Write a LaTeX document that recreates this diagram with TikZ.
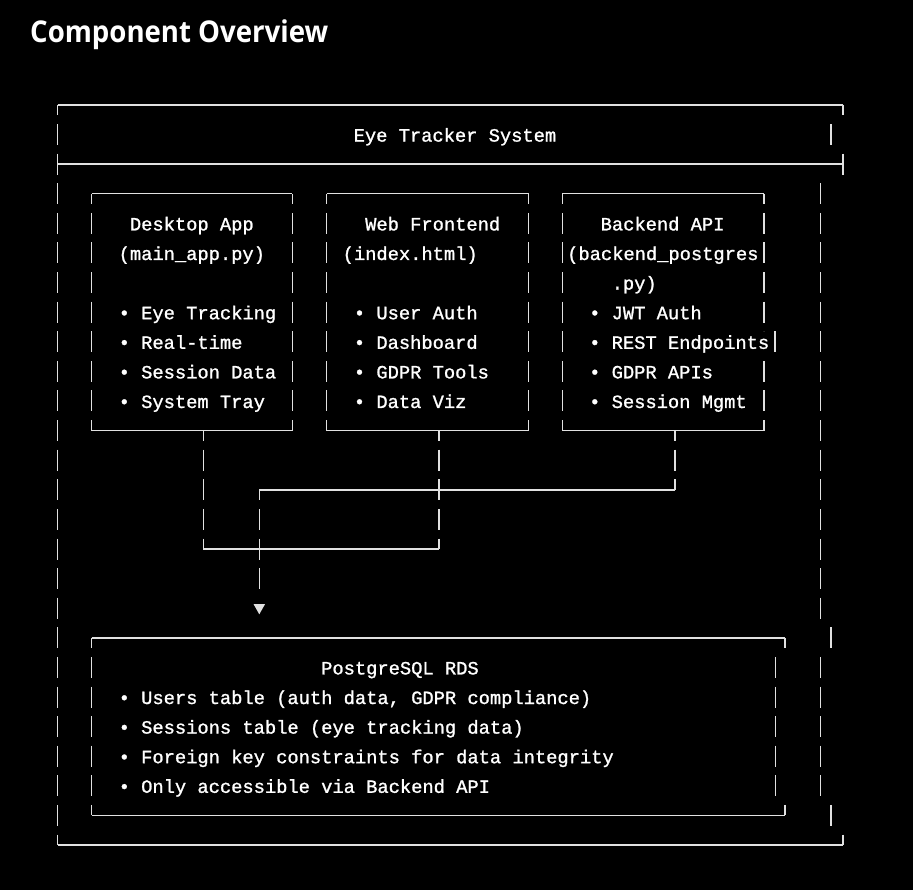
\documentclass[tikz,border=0pt]{standalone}
\usepackage{fontspec}
\setmonofont{Liberation Mono}[AutoFakeBold=1.2]
\newfontfamily\titlefont{Open Sans}
\definecolor{ln}{RGB}{225,225,225}
\begin{document}
\begin{tikzpicture}[x=1pt,y=-1pt,
 hl/.style={draw=ln, line width=1.4pt},
 vbar/.style={draw=ln, line width=1.4pt, dash pattern=on 21pt off 8.6pt, dash phase=10.5pt},
 vfull/.style={draw=ln, line width=1.4pt, dash pattern=on 21pt off 8.6pt, dash phase=0pt},
 txt/.style={text=white, font=\ttfamily\bfseries\fontsize{18.75}{20}\selectfont, anchor=base west, inner sep=0pt},
]
\path[fill=black, use as bounding box] (0,0) rectangle (913,890);

% title
\node[anchor=base west, inner sep=0pt, text=white, xscale=0.92,
  font=\titlefont\bfseries\fontsize{30}{36}\selectfont] (title) at (30,42.5) {Component Overview};

% outer frame
\draw[hl] (57.5,105) -- (843,105);
\draw[hl] (57.5,164.2) -- (843,164.2);
\draw[hl] (57.5,845) -- (843,845);
\draw[vbar] (57.5,105) -- (57.5,845);
\draw[hl] (843,105) -- (843,115.5);
\draw[hl] (831,124.1) -- (831,145.1);
\draw[hl] (843,153.7) -- (843,174.7);
\draw[vfull] (820.5,183.3) -- (820.5,618.7);
\draw[hl] (831,627.3) -- (831,648.3);
\draw[vfull] (820.5,656.9) -- (820.5,796.3);
\draw[hl] (831,804.9) -- (831,825.9);
\draw[hl] (843,834.5) -- (843,845);
\node[txt] (sys) at (353.5,141.6) {Eye Tracker System};

% desktop box
\draw[hl] (91.7,193.8) -- (292.3,193.8);
\draw[hl] (91.7,430.6) -- (292.3,430.6);
\draw[vbar] (91.7,193.8) -- (91.7,430.6);
\draw[vbar] (292.3,193.8) -- (292.3,430.6);
\node[txt] (d1) at (129.75,230.4) {Desktop App};
\node[txt] (d2) at (118.5,260) {(main\_app.py)};
\node[txt] (d3) at (118.5,319.2) {• Eye Tracking};
\node[txt] (d4) at (118.5,348.8) {• Real-time};
\node[txt] (d5) at (118.5,378.4) {• Session Data};
\node[txt] (d6) at (118.5,408) {• System Tray};

% web box
\draw[hl] (326.7,193.8) -- (528.7,193.8);
\draw[hl] (326.7,430.6) -- (528.7,430.6);
\draw[vbar] (326.7,193.8) -- (326.7,430.6);
\draw[vbar] (528.7,193.8) -- (528.7,430.6);
\node[txt] (w1) at (365,230.4) {Web Frontend};
\node[txt] (w2) at (342.5,260) {(index.html)};
\node[txt] (w3) at (353.7,319.2) {• User Auth};
\node[txt] (w4) at (353.7,348.8) {• Dashboard};
\node[txt] (w5) at (353.7,378.4) {• GDPR Tools};
\node[txt] (w6) at (353.7,408) {• Data Viz};

% backend box
\draw[hl] (562.3,193.8) -- (764,193.8);
\draw[hl] (562.3,430.6) -- (764,430.6);
\draw[vbar] (562.3,193.8) -- (562.3,430.6);
\draw[vbar] (764,193.8) -- (764,331.3);
\draw[hl] (775,331.3) -- (775,352.3);
\draw[vbar, dash phase=21pt] (764,352.3) -- (764,430.6);
\node[txt] (b1) at (600.5,230.4) {Backend API};
\node[txt] (b2) at (567,260) {(backend\_postgres};
\node[txt] (b2b) at (611.5,289.6) {.py)};
\node[txt] (b3) at (589,319.2) {• JWT Auth};
\node[txt] (b4) at (589,348.8) {• REST Endpoints};
\node[txt] (b5) at (589,378.4) {• GDPR APIs};
\node[txt] (b6) at (589,408) {• Session Mgmt};

% postgres box
\draw[hl] (91.7,637.8) -- (785,637.8);
\draw[hl] (91.7,815.4) -- (785,815.4);
\draw[vbar] (91.7,637.8) -- (91.7,815.4);
\draw[hl] (785,637.8) -- (785,648.3);
\draw[vfull] (775.7,656.9) -- (775.7,796.3);
\draw[hl] (785,804.9) -- (785,815.4);
\node[txt] (p1) at (321,674.4) {PostgreSQL RDS};
\node[txt] (p2) at (118.5,704) {• Users table (auth data, GDPR compliance)};
\node[txt] (p3) at (118.5,733.6) {• Sessions table (eye tracking data)};
\node[txt] (p4) at (118.5,763.2) {• Foreign key constraints for data integrity};
\node[txt] (p5) at (118.5,792.8) {• Only accessible via Backend API};

% connectors
\coordinate (dA) at (203.3,430.6);
\coordinate (dB) at (203.3,549);
\coordinate (wA) at (439,430.6);
\coordinate (wB) at (439,549);
\coordinate (bA) at (675,430.6);
\coordinate (bB) at (675,489.8);
\coordinate (cA) at (259.3,489.8);
\coordinate (cB) at (259.3,589.1);
\draw[vbar] (dA) -- (dB);
\draw[vbar] (wA) -- (wB);
\draw[hl] (dB) -- (wB);
\draw[vbar] (bA) -- (bB);
\draw[hl] (bB) -- (cA);
\draw[vbar] (cA) -- (cB);
\coordinate (arr) at (259.3,609);
\fill[ln] (253.5,604) -- (265.1,604) -- (259.3,614.3) -- cycle;
\end{tikzpicture}
\end{document}
